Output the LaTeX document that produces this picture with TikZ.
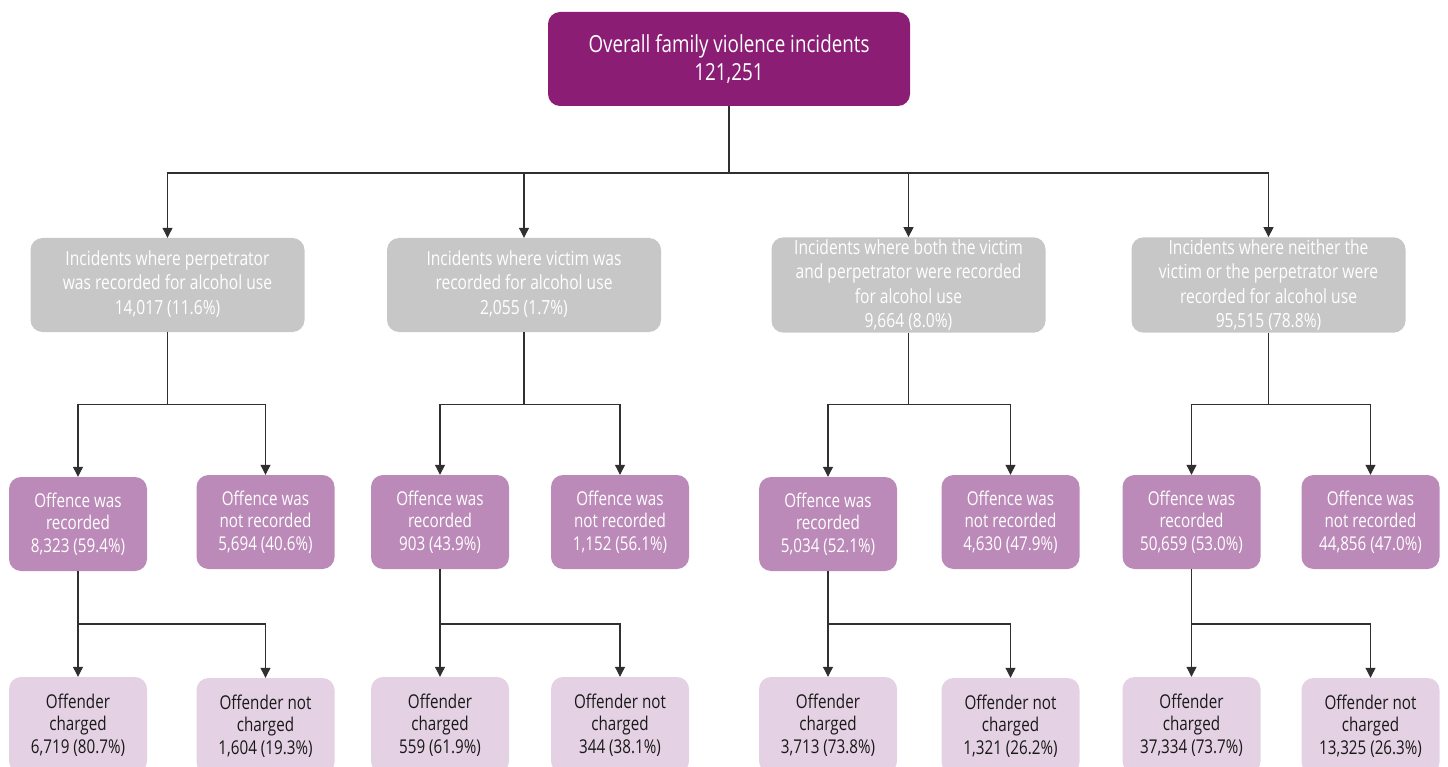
\documentclass[tikz,border=0pt]{standalone}
\usepackage{fontspec}
\setmainfont{Open Sans}[FakeStretch=0.80]
\usetikzlibrary{arrows.meta}
\definecolor{topc}{HTML}{8B1E74}
\definecolor{grayc}{HTML}{C6C7C6}
\definecolor{purc}{HTML}{BC8AB9}
\definecolor{lightc}{HTML}{E4D1E3}
\definecolor{linec}{HTML}{303030}
\tikzset{
  box/.style={rounded corners=12pt, inner sep=2pt, align=center, minimum height=94pt},
  topbox/.style={box, fill=topc, text=white, minimum width=362pt, font=\fontsize{23.5}{28}\selectfont},
  graybox/.style={box, fill=grayc, text=white, minimum width=274pt, font=\fontsize{19.5}{24.5}\selectfont},
  purbox/.style={box, fill=purc, text=white, minimum width=138pt, font=\fontsize{19}{22.5}\selectfont},
  lightbox/.style={box, fill=lightc, text=black!90, minimum width=138pt, minimum height=96pt, font=\fontsize{19}{22.5}\selectfont},
  conn/.style={draw=linec, line width=1.1pt},
  arr/.style={conn, -{Triangle[width=10pt,length=10pt]}},
}
\begin{document}
\begin{tikzpicture}[x=1pt,y=-1pt]
\useasboundingbox (0,0) rectangle (1448,767);
\clip (0,0) rectangle (1448,767);

\node[topbox] (top) at (729,59) {Overall family violence incidents\\121,251};

\node[graybox] (g1) at (167.5,285) {\raisebox{-2pt}{\begin{tabular}{@{}c@{}}Incidents where perpetrator\\was recorded for alcohol use\\14,017 (11.6\%)\end{tabular}}};
\node[graybox] (g2) at (524,285) {\raisebox{-2pt}{\begin{tabular}{@{}c@{}}Incidents where victim was\\recorded for alcohol use\\2,055 (1.7\%)\end{tabular}}};
\node[graybox] (g3) at (908.5,285) {Incidents where both the victim\\and perpetrator were recorded\\for alcohol use\\9,664 (8.0\%)};
\node[graybox] (g4) at (1268.5,285) {Incidents where neither the\\victim or the perpetrator were\\recorded for alcohol use\\95,515 (78.8\%)};

\node[purbox] (p1a) at (78,524) {Offence was\\recorded\\8,323 (59.4\%)};
\node[purbox] (p1b) at (265.5,522) {Offence was\\not recorded\\5,694 (40.6\%)};
\node[purbox] (p2a) at (440,522) {Offence was\\recorded\\903 (43.9\%)};
\node[purbox] (p2b) at (620,522) {Offence was\\not recorded\\1,152 (56.1\%)};
\node[purbox] (p3a) at (828,524) {Offence was\\recorded\\5,034 (52.1\%)};
\node[purbox] (p3b) at (1010.5,522) {Offence was\\not recorded\\4,630 (47.9\%)};
\node[purbox] (p4a) at (1191.5,522) {Offence was\\recorded\\50,659 (53.0\%)};
\node[purbox] (p4b) at (1370.5,522) {Offence was\\not recorded\\44,856 (47.0\%)};

\node[lightbox] (l1a) at (78,725) {Offender\\charged\\6,719 (80.7\%)};
\node[lightbox] (l1b) at (265.5,726) {Offender not\\charged\\1,604 (19.3\%)};
\node[lightbox] (l2a) at (440,725) {Offender\\charged\\559 (61.9\%)};
\node[lightbox] (l2b) at (620,725) {Offender not\\charged\\344 (38.1\%)};
\node[lightbox] (l3a) at (828,725) {Offender\\charged\\3,713 (73.8\%)};
\node[lightbox] (l3b) at (1010.5,726) {Offender not\\charged\\1,321 (26.2\%)};
\node[lightbox] (l4a) at (1191.5,725) {Offender\\charged\\37,334 (73.7\%)};
\node[lightbox] (l4b) at (1370.5,726) {Offender not\\charged\\13,325 (26.3\%)};

% top level
\coordinate (j0) at (729,173);
\draw[conn] (top.south) -- (j0);
\foreach \g in {g1,g2,g3,g4}{
  \draw[arr] (j0) -| (\g.north);
}
% second level
\foreach \g/\a/\b in {g1/p1a/p1b, g2/p2a/p2b, g3/p3a/p3b, g4/p4a/p4b}{
  \coordinate (j\g) at ([yshift=-72pt]\g.south);
  \draw[conn] (\g.south) -- (j\g);
  \draw[arr] (j\g) -| (\a.north);
  \draw[arr] (j\g) -| (\b.north);
}
% third level
\foreach \p/\a/\b in {p1a/l1a/l1b, p2a/l2a/l2b, p3a/l3a/l3b, p4a/l4a/l4b}{
  \coordinate (k\p) at (\p.south |- 0,624);
  \draw[conn] (\p.south) -- (k\p);
  \draw[arr] (k\p) -- (\a.north);
  \draw[arr] (k\p) -| (\b.north);
}
\end{tikzpicture}
\end{document}
